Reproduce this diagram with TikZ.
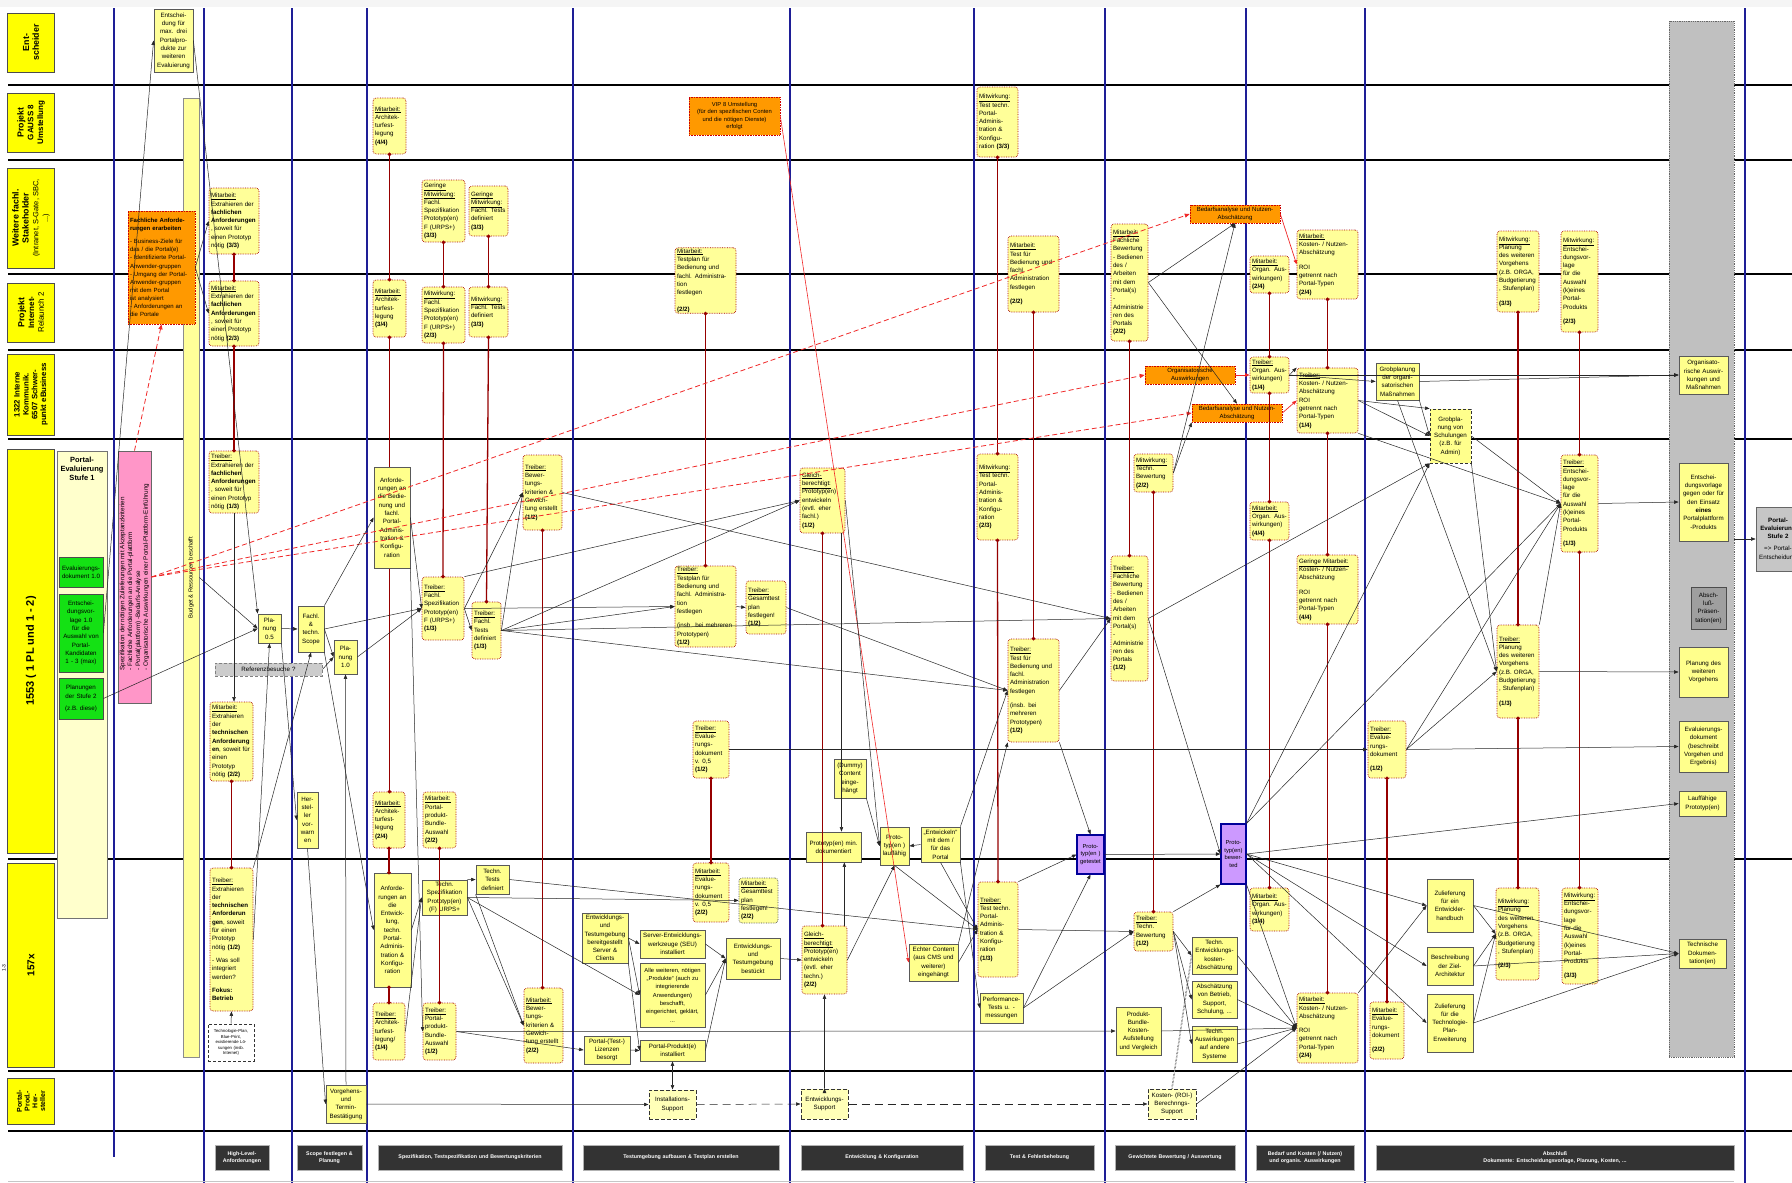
\documentclass[tikz,border=0pt]{standalone}
\usepackage{fontspec}
\setmainfont{Liberation Sans}
\usetikzlibrary{arrows.meta}
\definecolor{rolefill}{RGB}{255,255,153}
\definecolor{sqfill}{RGB}{255,255,140}
\definecolor{lanefill}{RGB}{255,255,0}
\definecolor{orgfill}{RGB}{255,153,0}
\definecolor{pinkfill}{RGB}{255,150,200}
\definecolor{greenfill}{RGB}{20,225,20}
\definecolor{creamfill}{RGB}{255,255,204}
\definecolor{purplefill}{RGB}{204,153,255}
\definecolor{colgray}{RGB}{192,192,192}
\definecolor{phasefill}{RGB}{51,51,51}
\definecolor{laneblue}{RGB}{30,30,150}
\definecolor{linkred}{RGB}{150,0,0}
\definecolor{dashred}{RGB}{240,40,40}
\newcommand{\boxat}[7]{\node[#1, minimum width={(#5-#3)*1pt}, minimum height={(#6-#4)*1pt}, text width={(#5-#3-4)*1pt}] (#2) at ({(#3+#5)/2},{(#4+#6)/2}) {#7};}
\newcommand{\rl}[1]{\underline{#1}\\}
\tikzset{
  smallfont/.style={font=\fontsize{6.2}{8.3}\selectfont},
  rolebox/.style={smallfont, draw=red!65!black, densely dotted, line width=0.7pt, fill=rolefill, rounded corners=3pt, align=left, inner xsep=2pt, inner ysep=1pt},
  sqbox/.style={smallfont, draw=black!65, line width=0.8pt, fill=sqfill, align=center, inner xsep=2pt, inner ysep=1pt},
  orgbox/.style={smallfont, draw=red!80!black, densely dotted, line width=0.6pt, fill=orgfill, align=center, inner xsep=2pt, inner ysep=0pt},
  greenbox/.style={sqbox, fill=greenfill, draw=black!70},
  supbox/.style={sqbox, fill=rolefill!70, draw=black!80, dash pattern=on 4pt off 2pt, line width=1pt},
  protobox/.style={sqbox, fill=purplefill, draw=blue!60!black, line width=1.1pt, font=\fontsize{5.8}{7.6}\selectfont},
  graybox/.style={sqbox, fill=gray!60, draw=black!60},
  lanebox/.style={draw=black!70, line width=1pt, fill=lanefill},
  lanetxt/.style={font=\fontsize{8.8}{9.8}\selectfont\bfseries, align=center, inner sep=0pt},
  phasebox/.style={fill=phasefill, draw=gray!60, line width=0.6pt, text=white, align=center, font=\fontsize{5.3}{6.6}\selectfont\bfseries, inner sep=1pt},
  laneline/.style={line width=1.6pt, black},
  phaseline/.style={line width=1.1pt, laneblue},
  arr/.style={->, >={Triangle[length=4.5pt,width=3.4pt]}, line width=0.5pt, black!85},
  lnk/.style={draw=linkred, line width=1.3pt, {Circle[length=3.6pt]}-{Circle[length=3.6pt]}, shorten <=-1.8pt, shorten >=-1.8pt},
  req/.style={->, >={Triangle[length=5pt,width=4pt]}, dashred, line width=0.8pt, dash pattern=on 5pt off 3pt},
  redarr/.style={->, >={Triangle[length=4.5pt,width=3.4pt]}, dashred, line width=0.7pt},
}
\begin{document}
\begin{tikzpicture}[x=1pt, y=-1pt]
\useasboundingbox (0,0) rectangle (1792,1183);
\fill[white] (0,0) rectangle (1792,1183);
\fill[gray!8] (0,0) rectangle (1792,7);
\foreach \y in {85,160,274,350,439,859,1071,1131}
  \draw[laneline] (8,\y) -- (1792,\y);
\draw[phaseline] (114,8) -- (114,1157);
\draw[phaseline, line width=2.2pt] (204,8) -- (204,1183);
\foreach \x in {292,367,573,790,974,1105,1246,1365,1745}
  \draw[phaseline] (\x,8) -- (\x,1183);
\draw[gray!45, line width=1pt] (8,1181) -- (1734,1181);
\node[font=\fontsize{5}{6}\selectfont, rotate=90] (side) at (4,968) {1-3};

% lanes
\boxat{lanebox}{ln1}{9}{13}{53}{72}{}
\node[lanetxt, rotate=90] (ln1t) at (ln1) {Ent-\\scheider};
\boxat{lanebox}{ln2}{9}{93}{53}{152}{}
\node[lanetxt, rotate=90] (ln2t) at (ln2) {Projekt\\{\fontsize{8}{9}\selectfont GAUSS 8}\\{\fontsize{8}{9}\selectfont Umstellung}};
\boxat{lanebox}{ln3}{9}{168}{53}{268}{}
\node[lanetxt, rotate=90] (ln3t) at (ln3) {Weitere fachl.\\Stakeholder\\{\mdseries\fontsize{7.5}{8.5}\selectfont (Intranet, S-Gate, SBC,}\\{\mdseries\fontsize{7.5}{8.5}\selectfont ...)}};
\boxat{lanebox}{ln4}{9}{283}{53}{342}{}
\node[lanetxt, rotate=90] (ln4t) at (ln4) {Projekt\\{\fontsize{8}{9}\selectfont Internet-}\\{\mdseries\fontsize{8}{9}\selectfont Relaunch 2}};
\boxat{lanebox}{ln5}{9}{354}{53}{435}{}
\node[lanetxt, rotate=90, font=\fontsize{7.8}{8.8}\selectfont\bfseries] (ln5t) at (ln5) {1322 Interne\\Kommunik.\\6507 Schwer-\\punkt eBusiness};
\boxat{lanebox}{ln6}{9}{449}{53}{853}{}
\node[lanetxt, rotate=90, font=\fontsize{11}{13}\selectfont\bfseries] (ln6t) at (ln6) {1553 ( 1 PL und 1 - 2)};
\boxat{lanebox}{ln7}{9}{863}{53}{1067}{}
\node[lanetxt, rotate=90, font=\fontsize{10}{12}\selectfont\bfseries] (ln7t) at (ln7) {157x};
\boxat{lanebox}{ln8}{9}{1078}{53}{1124}{}
\node[lanetxt, rotate=90, font=\fontsize{7}{7.8}\selectfont\bfseries] (ln8t) at (ln8) {Portal-\\Prod.-\\Her-\\steller};

% left column
\boxat{sqbox, fill=creamfill, draw=black!55}{stage1}{57}{451}{107}{918}{}
\node[font=\fontsize{7.5}{9}\selectfont\bfseries, align=center, anchor=north] (stage1t) at (82,454) {Portal-\\Evaluierung\\Stufe 1};
\boxat{greenbox}{ev10}{59}{557}{103}{587}{Evaluierungs-\\dokument 1.0}
\boxat{greenbox}{evl10}{59}{594}{103}{672}{Entschei-\\dungsvor-\\lage 1.0\\für die\\Auswahl von\\Portal-\\Kandidaten\\1 - 3 (max)}
\boxat{greenbox}{plan2}{59}{678}{103}{719}{Planungen\\der Stufe 2\\[4pt](z.B. diese)}
\boxat{sqbox, fill=pinkfill, draw=black!60}{spec}{118}{451}{151}{703}{}
\node[rotate=90, align=left, font=\fontsize{6.3}{7.8}\selectfont, inner sep=0pt] (spect) at (spec) {Spezifikation der nötigen Zulieferungen mit Akzeptanzkriterien\\- Fachliche Anforderungen an die Portal-plattform\\- Portal(plattform) -Bedarfs-Analyse\\- Organisatorische Auswirkungen einer Portal-Plattform-Einführung};
\boxat{sqbox, fill=rolefill, draw=black!45}{budget}{183}{98}{199}{1057}{}
\node[rotate=90, font=\fontsize{5.8}{7}\selectfont, inner sep=0pt] (budgett) at (budget) {Budget \& Ressourcen beschafft};
\boxat{orgbox, align=left, font=\fontsize{6}{8.1}\selectfont}{fareq}{128}{211}{195}{324}{\textbf{Fachliche Anforde-}\\\textbf{rungen erarbeiten}\\[5pt]- Business-Ziele für\\das / die Portal(e)\\- Identifizierte Portal-\\Anwender-gruppen\\- Umgang der Portal-\\Anwender-gruppen\\mit dem Portal\\ist analysiert\\- Anforderungen an\\die Portale}
\boxat{sqbox, fill=rolefill}{ent}{154}{9}{193}{72}{Entschei-\\dung für\\max. drei\\Portalpro-\\dukte zur\\weiteren\\Evaluierung}

% High-Level-Anforderungen
\boxat{rolebox}{fa3}{209}{188}{259}{254}{\rl{Mitarbeit:}Extrahieren der\\\textbf{fachlichen}\\\textbf{Anforderungen}\\, soweit für\\einen Prototyp\\nötig \textbf{(3/3)}}
\boxat{rolebox}{fa2}{209}{281}{259}{346}{\rl{Mitarbeit:}Extrahieren der\\\textbf{fachlichen}\\\textbf{Anforderungen}\\, soweit für\\einen Prototyp\\nötig \textbf{(2/3)}}
\boxat{rolebox}{fa1}{209}{451}{259}{513}{\rl{Treiber:}Extrahieren der\\\textbf{fachlichen}\\\textbf{Anforderungen}\\, soweit für\\einen Prototyp\\nötig \textbf{(1/3)}}
\boxat{rolebox}{ta2}{210}{702}{253}{781}{\rl{Mitarbeit:}Extrahieren\\der\\\textbf{technischen}\\\textbf{Anforderung}\\\textbf{en}, soweit für\\einen\\Prototyp\\nötig \textbf{(2/2)}}
\boxat{rolebox}{ta1}{210}{868}{253}{1011}{\rl{Treiber:}Extrahieren\\der\\\textbf{technischen}\\\textbf{Anforderun}\\\textbf{gen}, soweit\\für einen\\Prototyp\\nötig \textbf{(1/2)}\\[5pt]- Was soll\\integriert\\werden?\\[5pt]\textbf{Fokus:}\\\textbf{Betrieb}}
\boxat{sqbox, fill=white, draw=black!80, densely dashed, font=\fontsize{4.3}{5.6}\selectfont}{tplan}{208}{1024}{254}{1061}{Technologie-Plan,\\Blue-Print,\\existierende Lö-\\sungen (insb.\\Internet)}
\boxat{sqbox}{pl05}{258}{614}{281}{643}{Pla-\\nung\\0.5}

% Scope festlegen
\boxat{sqbox}{scope}{298}{606}{324}{652}{Fachl.\\\&\\techn.\\Scope}
\boxat{sqbox}{pl10}{334}{640}{357}{674}{Pla-\\nung\\1.0}
\boxat{sqbox, fill=gray!40, draw=black!50, densely dashed}{refb}{215}{663}{322}{676}{Referenzbesuche ?}
\boxat{sqbox}{warn}{297}{792}{318}{848}{Her-\\stel-\\ler\\vor-\\warn\\en}
\boxat{sqbox}{vtb}{326}{1085}{366}{1123}{Vorgehens-\\und\\Termin-\\Bestätigung}

% Spezifikation
\boxat{rolebox}{ar4}{373}{98}{406}{154}{\rl{Mitarbeit:}Architek-\\turfest-\\legung\\\textbf{(4/4)}}
\boxat{rolebox}{ar3}{373}{280}{406}{337}{\rl{Mitarbeit:}Architek-\\turfest-\\legung\\\textbf{(3/4)}}
\boxat{rolebox}{ar2}{373}{792}{405}{848}{\rl{Mitarbeit:}Architek-\\turfest-\\legung\\\textbf{(2/4)}}
\draw[lnk] (ar3.south) -- (ar3.south |- ar2.north);
\boxat{rolebox}{fs3}{422}{180}{465}{242}{\rl{Geringe}\rl{Mitwirkung:}Fachl.\\Spezifikation\\Prototyp(en)\\F (URPS+)\\\textbf{(3/3)}}
\boxat{rolebox}{ft3a}{469}{186}{508}{236}{\rl{Geringe}\rl{Mitwirkung:}Fachl. Tests\\definiert\\\textbf{(3/3)}}
\boxat{rolebox}{fs2}{422}{287}{465}{343}{\rl{Mitwirkung:}Fachl.\\Spezifikation\\Prototyp(en)\\F (URPS+)\\\textbf{(2/3)}}
\boxat{rolebox}{ft3b}{469}{287}{508}{337}{\rl{Mitwirkung:}Fachl. Tests\\definiert\\\textbf{(3/3)}}
\boxat{sqbox}{anfb}{374}{467}{410}{568}{Anforde-\\rungen an\\die Bedie-\\nung und\\fachl.\\Portal-\\Adminis-\\tration \&\\Konfigu-\\ration}
\boxat{rolebox}{fs1}{422}{577}{464}{640}{\rl{Treiber:}Fachl.\\Spezifikation\\Prototyp(en)\\F (URPS+)\\\textbf{(1/3)}}
\boxat{rolebox}{ft1}{472}{602}{501}{659}{\rl{Treiber:}Fachl.\\Tests\\definiert\\\textbf{(1/3)}}
\boxat{rolebox}{bk1}{523}{455}{562}{530}{\rl{Treiber:}Bewer-\\tungs-\\kriterien \&\\Gewich-\\tung erstellt\\\textbf{(1/2)}}
\boxat{rolebox}{pb2}{423}{792}{456}{848}{\rl{Mitarbeit:}Portal-\\produkt-\\Bundle-\\Auswahl\\\textbf{(2/2)}}
\boxat{sqbox}{anfe}{374}{873}{411}{987}{Anforde-\\rungen an\\die\\Entwick-\\lung,\\techn.\\Portal-\\Adminis-\\tration \&\\Konfigu-\\ration}
\boxat{sqbox}{tspec}{422}{880}{467}{915}{Techn.\\Spezifikation\\Prototyp(en)\\(F) URPS+}
\boxat{sqbox}{ttest}{476}{865}{509}{894}{Techn.\\Tests\\definiert}
\boxat{rolebox}{ar1}{373}{1003}{405}{1060}{\rl{Treiber:}Architek-\\turfest-\\legung/\\\textbf{(1/4)}}
\boxat{rolebox}{pb1}{423}{1003}{456}{1060}{\rl{Treiber:}Portal-\\produkt-\\Bundle-\\Auswahl\\\textbf{(1/2)}}
\boxat{rolebox}{bk2}{524}{988}{563}{1063}{\rl{Mitarbeit:}Bewer-\\tungs-\\kriterien \&\\Gewich-\\tung erstellt\\\textbf{(2/2)}}

% Testumgebung
\boxat{orgbox, font=\fontsize{5.8}{7.6}\selectfont}{vip}{689}{97}{780}{135}{VIP 8 Umstellung\\(für den spezifischen Conten\\und die nötigen Dienste)\\erfolgt}
\boxat{rolebox}{tp2}{675}{249}{736}{312}{\rl{Mitarbeit:}Testplan für\\Bedienung und\\fachl. Administration\\festlegen\\[8pt]\textbf{(2/2)}}
\boxat{rolebox}{tp1}{675}{566}{736}{647}{\rl{Treiber:}Testplan für\\Bedienung und\\fachl. Administration\\festlegen\\[6pt](insb. bei mehreren\\Prototypen)\\\textbf{(1/2)}}
\boxat{rolebox}{gt1}{746}{581}{786}{634}{\rl{Treiber:}Gesamttest\\plan\\festlegen!\\\textbf{(1/2)}}
\boxat{rolebox}{ev1}{693}{721}{729}{778}{\rl{Treiber:}Evalue-\\rungs-\\dokument\\v. 0,5\\\textbf{(1/2)}}
\boxat{rolebox}{ev2}{693}{863}{729}{922}{\rl{Mitarbeit:}Evalue-\\rungs-\\dokument\\v. 0,5\\\textbf{(2/2)}}
\boxat{rolebox, draw=black!70}{gt2}{739}{878}{778}{923}{\rl{Mitarbeit:}Gesamttest\\plan\\festlegen!\\\textbf{(2/2)}}
\boxat{sqbox}{etb}{582}{913}{628}{963}{Entwicklungs-\\und\\Testumgebung\\bereitgestellt\\Server \&\\Clients}
\boxat{sqbox}{seu}{640}{930}{705}{958}{Server-Entwicklungs-\\werkzeuge (SEU)\\installiert}
\boxat{sqbox, font=\fontsize{5.8}{8.3}\selectfont}{alle}{640}{963}{705}{1027}{Alle weiteren, nötigen\\„Produkte“ (auch zu\\integrierende\\Anwendungen)\\beschafft,\\eingerichtet, geklärt,\\...}
\boxat{sqbox}{etbest}{726}{938}{780}{979}{Entwicklungs-\\und\\Testumgebung\\bestückt}
\boxat{sqbox}{liz}{584}{1036}{630}{1064}{Portal-(Test-)\\Lizenzen\\besorgt}
\boxat{sqbox}{ppi}{640}{1040}{705}{1061}{Portal-Produkt(e)\\installiert}
\boxat{supbox}{isup}{649}{1090}{696}{1119}{Installations-\\Support}
\boxat{supbox}{esup}{801}{1089}{848}{1119}{Entwicklungs-\\Support}

% Entwicklung
\boxat{rolebox}{gb1}{800}{468}{845}{533}{\rl{Gleich-}\rl{berechtigt:}Prototyp(en)\\entwickeln\\(evtl. eher\\fachl.)\\\textbf{(1/2)}}
\boxat{sqbox}{dummy}{834}{759}{866}{798}{(Dummy)\\Content\\einge-\\hängt}
\boxat{sqbox}{pmin}{806}{832}{861}{862}{Prototyp(en) min.\\dokumentiert}
\boxat{sqbox}{plauf}{880}{827}{909}{865}{Proto-\\typ(en )\\lauffähig}
\boxat{sqbox}{entw}{921}{827}{960}{862}{„Entwickeln“\\mit dem /\\für das\\Portal}
\boxat{rolebox}{gb2}{802}{926}{847}{994}{\rl{Gleich-}\rl{berechtigt:}Prototyp(en)\\entwickeln\\(evtl. eher\\techn.)\\\textbf{(2/2)}}
\boxat{sqbox}{echt}{909}{944}{958}{981}{Echter Content\\(aus CMS und\\weiterer)\\eingehängt}

% Test
\boxat{rolebox}{tt3}{977}{87}{1018}{157}{\rl{Mitwirkung:}Test techn.\\Portal-\\Adminis-\\tration \&\\Konfigu-\\ration \textbf{(3/3)}}
\boxat{rolebox}{tb2}{1008}{236}{1059}{312}{\rl{Mitarbeit:}Test für\\Bedienung und\\fachl.\\Administration\\festlegen\\[6pt]\textbf{(2/2)}}
\boxat{rolebox}{tt2}{977}{454}{1018}{540}{\rl{Mitwirkung:}Test techn.\\Portal-\\Adminis-\\tration \&\\Konfigu-\\ration\\\textbf{(2/3)}}
\boxat{rolebox}{tb1}{1008}{639}{1059}{742}{\rl{Treiber:}Test für\\Bedienung und\\fachl.\\Administration\\festlegen\\[6pt](insb. bei\\mehreren\\Prototypen)\\\textbf{(1/2)}}
\boxat{protobox}{pget}{1077}{835}{1104}{874}{Proto-\\typ(en )\\getestet}
\boxat{rolebox}{tt1}{978}{882}{1018}{977}{\rl{Treiber:}Test techn.\\Portal-\\Adminis-\\tration \&\\Konfigu-\\ration\\\textbf{(1/3)}}
\boxat{sqbox}{perf}{980}{993}{1023}{1023}{Performance-\\Tests u. -\\messungen}

% Gewichtete Bewertung
\boxat{rolebox}{fb2}{1111}{224}{1148}{341}{\rl{Mitarbeit:}Fachliche\\Bewertung\\- Bedienen\\des /\\Arbeiten\\mit dem\\Portal(s)\\-\\Administrie\\ren des\\Portals\\\textbf{(2/2)}}
\boxat{rolebox}{tbw2}{1134}{454}{1173}{492}{\rl{Mitwirkung:}Techn.\\Bewertung\\\textbf{(2/2)}}
\boxat{rolebox}{fb1}{1111}{556}{1148}{681}{\rl{Treiber:}Fachliche\\Bewertung\\- Bedienen\\des /\\Arbeiten\\mit dem\\Portal(s)\\-\\Administrie\\ren des\\Portals\\\textbf{(1/2)}}
\boxat{rolebox}{tbw1}{1134}{912}{1173}{951}{\rl{Treiber:}Techn.\\Bewertung\\\textbf{(1/2)}}
\boxat{sqbox}{tek}{1192}{937}{1237}{974}{Techn.\\Entwicklungs-\\kosten-\\Abschätzung}
\boxat{sqbox}{abs}{1192}{981}{1237}{1018}{Abschätzung\\von Betrieb,\\Support,\\Schulung, ...}
\boxat{sqbox}{tas}{1192}{1026}{1237}{1062}{Techn.\\Auswirkungen\\auf andere\\Systeme}
\boxat{sqbox}{pbk}{1116}{1007}{1161}{1055}{Produkt-\\Bundle-\\Kosten-\\Aufstellung\\und Vergleich}
\boxat{supbox}{ksup}{1148}{1089}{1196}{1119}{Kosten- (ROI-)\\Berechnngs-\\Support}
\boxat{protobox}{pbew}{1221}{824}{1246}{884}{Proto-\\typ(en)\\bewer-\\ted}
\boxat{orgbox, font=\fontsize{6}{7.8}\selectfont}{bed1}{1190}{205}{1280}{223}{Bedarfsanalyse und Nutzen-\\Abschätzung}
\boxat{orgbox, font=\fontsize{6}{7.8}\selectfont}{org}{1145}{366}{1235}{384}{Organisatorische\\Auswirkungen}
\boxat{orgbox, font=\fontsize{6}{7.8}\selectfont}{bed2}{1192}{404}{1282}{422}{Bedarfsanalyse und Nutzen-\\Abschätzung}

% Bedarf und Kosten
\boxat{rolebox}{og2}{1250}{256}{1289}{293}{\rl{Mitarbeit:}Organ. Aus-\\wirkungen)\\\textbf{(2/4)}}
\boxat{rolebox}{kn2a}{1297}{230}{1358}{299}{\rl{Mitarbeit:}Kosten- / Nutzen-\\Abschätzung\\[6pt]ROI\\getrennt nach\\Portal-Typen\\\textbf{(2/4)}}
\boxat{rolebox}{og1}{1250}{357}{1289}{393}{\rl{Treiber:}Organ. Aus-\\wirkungen)\\\textbf{(1/4)}}
\boxat{rolebox}{kn1}{1297}{368}{1358}{433}{\rl{Treiber:}Kosten- / Nutzen-\\Abschätzung\\ROI\\getrennt nach\\Portal-Typen\\\textbf{(1/4)}}
\boxat{sqbox}{gorg}{1376}{363}{1419}{400}{Grobplanung\\der organi-\\satorischen\\Maßnahmen}
\boxat{sqbox, draw=black!80, densely dashed}{gsch}{1430}{409}{1471}{463}{Grobpla-\\nung von\\Schulungen\\(z.B. für\\Admin)}
\boxat{rolebox}{og4}{1250}{502}{1289}{540}{\rl{Mitarbeit:}Organ. Aus-\\wirkungen)\\\textbf{(4/4)}}
\boxat{rolebox}{kn4}{1297}{555}{1358}{624}{\rl{Geringe Mitarbeit:}Kosten- / Nutzen-\\Abschätzung\\[6pt]ROI\\getrennt nach\\Portal-Typen\\\textbf{(4/4)}}
\boxat{rolebox}{og3}{1250}{888}{1289}{931}{\rl{Mitarbeit:}Organ. Aus-\\wirkungen)\\\textbf{(3/4)}}
\boxat{rolebox}{kn2b}{1297}{993}{1358}{1063}{\rl{Mitarbeit:}Kosten- / Nutzen-\\Abschätzung\\[6pt]ROI\\getrennt nach\\Portal-Typen\\\textbf{(2/4)}}

% Abschluss
\boxat{rolebox}{pv3}{1497}{231}{1539}{312}{\rl{Mitwirkung:}Planung\\des weiteren\\Vorgehens\\(z.B. ORGA,\\Budgetierung\\, Stufenplan)\\[6pt]\textbf{(3/3)}}
\boxat{rolebox}{ev3}{1561}{231}{1598}{332}{\rl{Mitwirkung:}Entschei-\\dungsvor-\\lage\\für die\\Auswahl\\(k)eines\\Portal-\\Produkts\\[6pt]\textbf{(2/3)}}
\boxat{rolebox}{edv1}{1561}{455}{1598}{552}{\rl{Treiber:}Entschei-\\dungsvor-\\lage\\für die\\Auswahl\\(k)eines\\Portal-\\Produkts\\[6pt]\textbf{(1/3)}}
\boxat{rolebox}{pv1}{1497}{625}{1539}{718}{\rl{Treiber:}Planung\\des weiteren\\Vorgehens\\(z.B. ORGA,\\Budgetierung\\, Stufenplan)\\[6pt]\textbf{(1/3)}}
\boxat{rolebox}{evd1}{1368}{721}{1406}{778}{\rl{Treiber:}Evalue-\\rungs-\\dokument\\[6pt]\textbf{(1/2)}}
\boxat{sqbox}{zent}{1427}{879}{1473}{932}{Zulieferung\\für ein\\Entwickler-\\handbuch}
\boxat{sqbox}{zarch}{1427}{947}{1473}{985}{Beschreibung\\der Ziel-\\Architektur}
\boxat{sqbox}{ztp}{1427}{994}{1473}{1052}{Zulieferung\\für die\\Technologie-\\Plan-\\Erweiterung}
\boxat{rolebox}{pv2}{1496}{888}{1539}{980}{\rl{Mitwirkung:}Planung\\des weiteren\\Vorgehens\\(z.B. ORGA,\\Budgetierung\\, Stufenplan)\\[6pt]\textbf{(2/3)}}
\boxat{rolebox}{edv3}{1562}{888}{1598}{984}{\rl{Mitwirkung:}Entschei-\\dungsvor-\\lage\\für die\\Auswahl\\(k)eines\\Portal-\\Produkts\\[6pt]\textbf{(3/3)}}
\boxat{rolebox}{evd2}{1370}{1002}{1404}{1059}{\rl{Mitarbeit:}Evalue-\\rungs-\\dokument\\[6pt]\textbf{(2/2)}}

% Ergebnisse
\boxat{sqbox, fill=colgray, draw=black!60, densely dotted}{gcol}{1669}{21}{1734}{1057}{}
\boxat{sqbox}{orgm}{1679}{356}{1728}{394}{Organisato-\\rische Auswir-\\kungen und\\Maßnahmen}
\boxat{sqbox}{edvg}{1679}{463}{1728}{541}{Entschei-\\dungsvorlage\\gegen oder für\\den Einsatz\\\textbf{eines}\\Portalplattform\\-Produkts}
\boxat{graybox, fill=gray!75, draw=black!70}{apres}{1691}{587}{1726}{629}{Absch-\\luß-\\Präsen-\\tation(en)}
\boxat{sqbox}{pvg}{1679}{647}{1728}{697}{Planung des\\weiteren\\Vorgehens}
\boxat{sqbox}{evg}{1679}{721}{1728}{772}{Evaluierungs-\\dokument\\(beschreibt\\Vorgehen und\\Ergebnis)}
\boxat{sqbox}{lpro}{1679}{791}{1726}{816}{Lauffähige\\Prototyp(en)}
\boxat{sqbox}{tdok}{1679}{939}{1726}{968}{Technische\\Dokumen-\\tation(en)}
\boxat{graybox, fill=gray!45}{stage2}{1756}{507}{1800}{571}{\textbf{Portal-}\\\textbf{Evaluierung}\\\textbf{Stufe 2}\\[4pt]=> Portal-\\Entscheidung}

% phases
\boxat{phasebox}{ph1}{215}{1145}{269}{1170}{High-Level-\\Anforderungen}
\boxat{phasebox}{ph2}{297}{1145}{362}{1170}{Scope festlegen \&\\Planung}
\boxat{phasebox}{ph3}{378}{1145}{562}{1170}{Spezifikation, Testspezifikation und Bewertungskriterien}
\boxat{phasebox}{ph4}{583}{1145}{779}{1170}{Testumgebung aufbauen \& Testplan erstellen}
\boxat{phasebox}{ph5}{801}{1145}{963}{1170}{Entwicklung \& Konfiguration}
\boxat{phasebox}{ph6}{985}{1145}{1094}{1170}{Test \& Fehlerbehebung}
\boxat{phasebox}{ph7}{1115}{1145}{1235}{1170}{Gewichtete Bewertung / Auswertung}
\boxat{phasebox}{ph8}{1256}{1145}{1354}{1170}{Bedarf und Kosten (/ Nutzen)\\und organis. Auswirkungen}
\boxat{phasebox}{ph9}{1376}{1145}{1734}{1170}{Abschluß\\Dokumente: Entscheidungsvorlage, Planung, Kosten, ...}

% role links
\draw[lnk] (fa3.south) -- (fa2.north);
\draw[lnk] (fa2.south) -- (fa1.north);
\draw[lnk] (ta2.south) -- (ta1.north);
\draw[lnk] (ar4.south) -- (ar3.north);
\draw[lnk] (ar2.south) -- (ar2.south |- anfe.north);
\draw[lnk] (ar1.north |- anfe.south) -- (ar1.north);
\draw[lnk] (fs3.south) -- (fs2.north);
\draw[lnk] (fs2.south) -- (fs1.north);
\draw[lnk] (ft3a.south) -- (ft3b.north);
\draw[lnk] (ft3b.south) -- (ft1.north);
\draw[lnk] (bk1.south) -- (bk1.south |- bk2.north);
\draw[lnk] (pb2.south) -- (pb1.north);
\draw[lnk] (tp2.south) -- (tp1.north);
\draw[lnk] (ev1.south) -- (ev2.north);
\draw[lnk] (gb1.south) -- (gb1.south |- gb2.north);
\draw[lnk] (tt3.south) -- (tt2.north);
\draw[lnk] (tt2.south) -- (tt1.north);
\draw[lnk] (tb2.south) -- (tb1.north);
\draw[lnk] (fb2.south) -- (fb1.north);
\draw[lnk] (tbw2.south) -- (tbw1.north);
\draw[lnk] (og2.south) -- (og1.north);
\draw[lnk] (og1.south) -- (og4.north);
\draw[lnk] (og4.south) -- (og3.north);
\draw[lnk, line width=0.8pt] (kn2a.south) -- (kn1.north);
\draw[lnk, line width=0.8pt] (kn1.south) -- (kn4.north);
\draw[lnk, line width=0.8pt] (kn4.south) -- (kn2b.north);
\draw[lnk] (pv3.south) -- (pv1.north);
\draw[lnk] (pv1.south) -- (pv1.south |- pv2.north);
\draw[lnk] (ev3.south) -- (edv1.north);
\draw[lnk] (edv1.south) -- (edv1.south |- edv3.north);
\draw[lnk] (evd1.south) -- (evd1.south |- evd2.north);

% requirements
\draw[req] (spec.north) -- (fareq.south);
\draw[req] (spec.east) -- (bed1.west);
\draw[req] (spec.east) -- (org.west);
\draw[req] (spec.east) -- (bed2.west);
\draw[redarr] (bed1.east) -- (kn2a.west);
\draw[redarr] (org.east) -- (og1.west);
\draw[redarr] (bed2.east) -- (kn1.west);
\draw[redarr, line width=0.6pt] (vip.east) -- (echt.west);

% flow
\draw[arr] (evl10.east) -- (ent.west);
\draw[arr] (ent.east) -- (pl05.north west);
\draw[arr] (fareq.east) -- (fa3.west);
\draw[arr] (fareq.east) -- (fa2.west);
\draw[arr] (budget.east) -- (pl05.west);
\draw[arr] (plan2.east) -- (pl05.west);
\draw[arr] (fa1.south) -- (fa1.south |- ta2.north);
\draw[arr] (tplan.north) -- (ta1.south);
\draw[arr] (ta1.east) -- (pl05.south);
\draw[arr] (ta1.north east) -- (scope.south);
\draw[arr] (pl05.east) -- (scope.west);
\draw[arr] (scope.east) -- (pl10.west);
\draw[arr] (refb.east) -- (pl10.west);
\draw[arr] (pl05.south east) -- (warn.west);
\draw[arr] (warn.south) -- (vtb.west);
\draw[arr] (vtb.north) -- (pl10.south);
\draw[arr] (vtb.east) -- (isup.west);
\draw[arr] (scope.north east) -- (anfb.west);
\draw[arr] (scope.east) -- (fs1.west);
\draw[arr] (pl10.east) -- (fs1.west);
\draw[arr] (scope.south east) -- (anfe.west);
\draw[arr] (anfb.east) -- (fs1.west);
\draw[arr] (anfb.south east) -- (pb1.west);
\draw[arr] (anfe.east) -- (tspec.west);
\draw[arr] (ar1.east) -- (tspec.west);
\draw[arr] (tspec.north east) -- (ttest.west);
\draw[arr] (tspec.east) -- (gt2.west);
\draw[arr] (tspec.east) -- (bk2.west);
\draw[arr] (tspec.east) -- (alle.west);
\draw[arr] (ttest.south west) -- (bk2.west);
\draw[arr] (ttest.east) -- (tt1.west);
\draw[arr] (pb1.east) -- (liz.west);
\draw[arr] (pb1.east) -- (pbk.west);
\draw[arr] (fs1.east) -- (ft1.west);
\draw[arr] (fs1.east) -- (bk1.west);
\draw[arr] (fs1.east) -- (tp1.west);
\draw[arr] (fs1.north east) -- (gb1.west);
\draw[arr] (ft1.east) -- (bk1.west);
\draw[arr] (ft1.east) -- (tp1.west);
\draw[arr] (ft1.east) -- (gb1.west);
\draw[arr] (ft1.east) -- (tb1.west);
\draw[arr] (ft1.east) -- (fb1.west);
\draw[arr] (bk1.east) -- (fb1.west);
\draw[arr] (tp1.east) -- (gt1.west);
\draw[arr] (gt1.east) -- (tb1.west);
\draw[arr] (ev1.east) -- (evd1.west);
\draw[arr] (gb1.-60) -- (gb1.-60 |- pmin.north);
\draw[arr] (gb1.east) -- (plauf.west);
\draw[arr] (dummy.south east) -- (plauf.west);
\draw[arr] (entw.west) -- (plauf.east);
\draw[arr] (gb2.60) -- (gb2.60 |- pmin.south);
\draw[arr] (gb2.east) -- (plauf.south);
\draw[arr] (etbest.east) -- (gb2.west);
\draw[arr, <->] (esup.north) -- (esup.north -| gb2.south) -- (gb2.south);
\draw[arr, <->] (isup.north) -- (ppi.south);
\draw[arr, dash pattern=on 8pt off 5pt] (isup.east) -- (esup.west);
\draw[arr, dash pattern=on 8pt off 5pt] (esup.east) -- (ksup.west);
\draw[densely dotted, double, line width=0.4pt] (ksup.north) -- (tek.west);
\draw[arr] (ksup.east) -- (kn2b.west);
\draw[arr] (etb.east) -- (seu.west);
\draw[arr] (etb.east) -- (alle.west);
\draw[arr] (etb.south east) -- (ppi.west);
\draw[arr] (seu.east) -- (etbest.west);
\draw[arr] (alle.east) -- (etbest.west);
\draw[arr] (ppi.east) -- (etbest.west);
\draw[arr] (liz.east) -- (ppi.west);
\draw[arr] (plauf.south) -- (tt1.west);
\draw[arr] (entw.south) -- (tt1.west);
\draw[arr] (echt.east) -- (tt1.west);
\draw[arr] (entw.south east) -- (perf.west);
\draw[arr] (entw.north east) -- (tb1.west);
\draw[arr] (echt.north east) -- (tb1.south west);
\draw[arr] (tt1.north east) -- (pget.west);
\draw[arr] (tt1.east) -- (tbw1.west);
\draw[arr] (perf.east) -- (pget.south);
\draw[arr] (perf.east) -- (tbw1.west);
\draw[arr] (tb1.south east) -- (pget.north);
\draw[arr] (tb1.east) -- (fb1.west);
\draw[arr] (pget.east) -- (pbew.west);
\draw[arr] (fb1.east) -- (pbew.west);
\draw[arr] (tbw1.north east) -- (pbew.south west);
\draw[arr] (tbw1.east) -- (tek.west);
\draw[arr] (tbw1.east) -- (abs.west);
\draw[arr] (tbw1.east) -- (tas.west);
\draw[arr] (tbw2.east) -- (bed1.south);
\draw[arr] (tbw2.east) -- (bed2.south west);
\draw[arr] (fb2.east) -- (bed1.south);
\draw[arr] (fb2.east) -- (bed2.north);
\draw[arr] (og1.east) -- (kn1.north west);
\draw[arr] (og1.east) -- (gorg.west);
\draw[arr] (og1.east) -- (orgm.west);
\draw[arr] (kn1.east) -- (gsch.north west);
\draw[arr] (kn1.east) -- (gsch.west);
\draw[arr] (kn1.south east) -- (edv1.west);
\draw[arr] (gorg.east) -- (orgm.west);
\draw[arr] (gorg.south east) -- (gsch.west);
\draw[arr] (gorg.south) -- (pv1.west);
\draw[arr] (gsch.south east) -- (pv1.west);
\draw[arr] (gsch.east) -- (edv1.west);
\draw[arr] (fb1.east) -- (gsch.south west);
\draw[arr] (pbew.north east) -- (gsch.south west);
\draw[arr] (pbew.north east) -- (edv1.west);
\draw[arr] (pbew.east) -- (lpro.west);
\draw[arr] (pbew.east) -- (zent.west);
\draw[arr] (pbew.east) -- (zarch.west);
\draw[arr] (pbew.east) -- (ztp.west);
\draw[arr] (pbew.south east) -- (kn2b.west);
\draw[arr] (tek.east) -- (kn2b.west);
\draw[arr] (abs.east) -- (kn2b.west);
\draw[arr] (tas.east) -- (kn2b.west);
\draw[arr] (pbk.east) -- (kn2b.west);
\draw[arr] (kn2b.north east) -- (zent.west);
\draw[arr] (evd1.east) -- (evg.west);
\draw[arr] (evd1.east) -- (pv1.west);
\draw[arr] (evd1.east) -- (edv1.west);
\draw[arr] (pv1.east) -- (pvg.west);
\draw[arr] (pv1.north east) -- (edv1.west);
\draw[arr] (edv1.east) -- (edvg.west);
\draw[arr] (zent.east) -- (pv2.west);
\draw[arr] (zarch.east) -- (pv2.west);
\draw[arr] (ztp.east) -- (pv2.west);
\draw[arr] (zent.east) -- (tdok.west);
\draw[arr] (zarch.east) -- (tdok.west);
\draw[arr] (ztp.east) -- (tdok.west);
\draw[arr] (gcol.east) -- (stage2.west);
\end{tikzpicture}
\end{document}
